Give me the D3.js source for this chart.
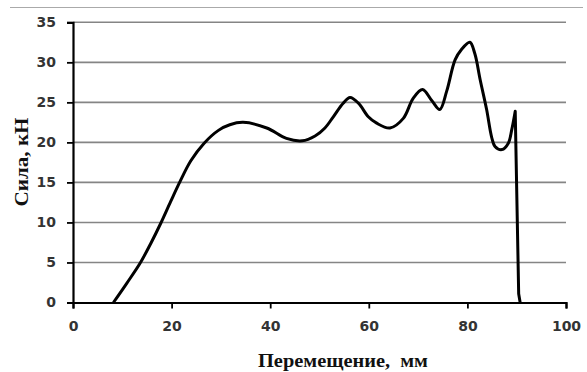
<!DOCTYPE html>
<html>
<head>
<meta charset="utf-8">
<script src="https://cdn.jsdelivr.net/npm/d3@7"></script>
<style>
  body { margin: 0; background: #fff; }
</style>
</head>
<body>
<div id="chart"></div>
<script>
// data
var displacement = [8.2, 10.9, 13.6, 15.8, 17.8, 19.8, 21.7, 23.9, 26.6, 29.5, 31.8, 34.5, 39.3, 43.3, 46.5,
  49.1, 51.1, 52.8, 54.8, 56.2, 57.9, 59.9, 61.6, 64.3, 67.0, 69.0, 70.9, 72.8, 74.4, 75.8, 77.5, 78.8,
  80.5, 81.5, 82.6, 83.9, 84.9, 85.6, 87.0, 88.3, 89.0, 89.7, 90.4, 90.7];
var force = [0, 2.4, 4.9, 7.4, 9.9, 12.6, 15.1, 17.7, 19.9, 21.5, 22.2, 22.5, 21.8, 20.5, 20.2,
  20.8, 21.8, 23.2, 24.9, 25.6, 24.9, 23.2, 22.4, 21.8, 23.0, 25.5, 26.6, 25.2, 24.1, 26.4, 30.3, 31.6,
  32.5, 31.1, 27.8, 24.1, 20.7, 19.5, 19.1, 19.9, 21.6, 23.9, 1.1, 0];
var xTicks = [0, 20, 40, 60, 80, 100];
var yTicks = [0, 5, 10, 15, 20, 25, 30, 35];

var W = 587, H = 372;
var margin = {top: 22.3, right: 21, bottom: 69.5, left: 73},
    width = W - margin.left - margin.right,
    height = H - margin.top - margin.bottom;

var root = d3.select("#chart")
  .append("svg")
  .attr("width", W)
  .attr("height", H);

// thin border line at the very top
root.append("line")
  .attr("x1", 10).attr("x2", 583)
  .attr("y1", 7.5).attr("y2", 7.5)
  .style("stroke", "#aaa")
  .style("stroke-width", 1);

var svg = root.append("g")
  .attr("transform", "translate(" + margin.left + "," + margin.top + ")");

var x = d3.scaleLinear().domain([0, 100]).range([0, width]);
var y = d3.scaleLinear().domain([0, 35]).range([height, 0]);

// gridlines
svg.append("g")
  .selectAll("line")
  .data(yTicks.filter(function(d) { return d > 0; }))
  .enter()
  .append("line")
    .attr("x1", 0).attr("x2", width)
    .attr("y1", function(d) { return y(d); })
    .attr("y2", function(d) { return y(d); })
    .style("stroke", "#858585")
    .style("stroke-width", 1.6);

// Y axis
var yAxis = svg.append("g")
  .call(d3.axisLeft(y).tickValues(yTicks).tickSize(6).tickPadding(11));
yAxis.select(".domain").style("stroke", "#000").style("stroke-width", 2.2);
yAxis.selectAll(".tick line").style("stroke", "#000").style("stroke-width", 1.8);
yAxis.selectAll("text")
  .style("font-family", "DejaVu Sans")
  .style("font-weight", "bold")
  .style("font-size", "14px")
  .style("fill", "#333");

// X axis
var xAxis = svg.append("g")
  .attr("transform", "translate(0," + height + ")")
  .call(d3.axisBottom(x).tickValues(xTicks).tickSize(6).tickPadding(13));
xAxis.select(".domain").style("stroke", "#000").style("stroke-width", 2.2);
xAxis.selectAll(".tick line").style("stroke", "#000").style("stroke-width", 1.8);
xAxis.selectAll("text")
  .style("font-family", "DejaVu Sans")
  .style("font-weight", "bold")
  .style("font-size", "14px")
  .style("fill", "#333");

// the curve: smooth part up to the last spike, then the straight drop
var points = displacement.map(function(d, i) { return [d, force[i]]; });
var spike = force.indexOf(23.9);
var smooth = d3.line()
  .x(function(d) { return x(d[0]); })
  .y(function(d) { return y(d[1]); })
  .curve(d3.curveCatmullRom.alpha(0.5));
var straight = d3.line()
  .x(function(d) { return x(d[0]); })
  .y(function(d) { return y(d[1]); });

svg.append("path")
  .attr("d", smooth(points.slice(0, spike + 1)) + straight(points.slice(spike)).replace("M", "L"))
  .style("fill", "none")
  .style("stroke", "#000")
  .style("stroke-width", 3)
  .style("stroke-linejoin", "round");

// axis titles
root.append("text")
  .attr("x", 343)
  .attr("y", 367)
  .attr("text-anchor", "middle")
  .attr("textLength", 170)
  .attr("lengthAdjust", "spacingAndGlyphs")
  .style("font-family", "Liberation Serif")
  .style("font-weight", "bold")
  .style("font-size", "18px")
  .style("fill", "#111")
  .text("Перемещение,\u00a0 мм");

root.append("text")
  .attr("transform", "translate(28,162) rotate(-90)")
  .attr("text-anchor", "middle")
  .attr("textLength", 89)
  .attr("lengthAdjust", "spacingAndGlyphs")
  .style("font-family", "Liberation Serif")
  .style("font-weight", "bold")
  .style("font-size", "18px")
  .style("fill", "#111")
  .text("Сила, кН");
</script>
</body>
</html>
